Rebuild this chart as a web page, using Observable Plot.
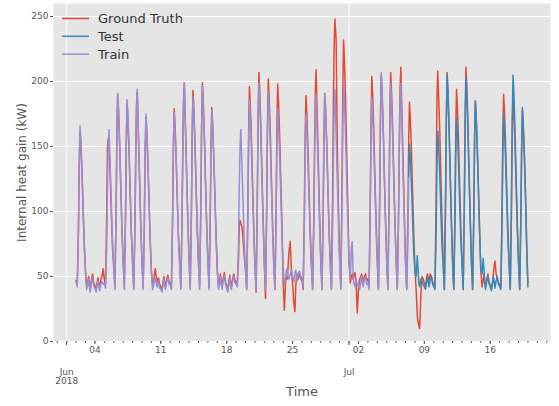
<!DOCTYPE html>
<html><head><meta charset="utf-8">
<script src="https://cdn.jsdelivr.net/npm/d3@7"></script>
<script src="https://cdn.jsdelivr.net/npm/@observablehq/plot@0.6"></script>
<style>
body{margin:0;background:#fff;}
svg{font-family:"DejaVu Sans",sans-serif;}
</style></head><body><div id="chart"></div>
<script>
// hours of day at which each row's values were read
const hours = [0, 3, 6, 8, 10, 12, 15, 18, 21];

const groundTruth = [
  ["06-02", 47, 44, 84, 134, 162, 152, 130, 100, 73],
  ["06-03", 55, 42, 46, 50, 44, 40, 47, 52, 45],
  ["06-04", 43, 40, 46, 49, 44, 41, 47, 50, 56],
  ["06-05", 48, 44, 95, 150, 156, 150, 128, 98, 72],
  ["06-06", 58, 42, 99, 158, 190, 179, 152, 118, 86],
  ["06-07", 62, 42, 95, 152, 183, 172, 146, 113, 82],
  ["06-08", 62, 41, 88, 140, 180, 192, 157, 122, 88],
  ["06-09", 62, 42, 89, 143, 172, 162, 138, 107, 77],
  ["06-10", 55, 43, 47, 52, 56, 50, 45, 49, 44],
  ["06-11", 42, 40, 46, 50, 45, 42, 48, 51, 46],
  ["06-12", 45, 42, 93, 149, 179, 168, 143, 111, 81],
  ["06-13", 62, 42, 90, 145, 185, 199, 163, 127, 92],
  ["06-14", 65, 42, 100, 160, 193, 181, 154, 120, 87],
  ["06-15", 62, 42, 103, 165, 199, 187, 159, 123, 90],
  ["06-16", 64, 42, 94, 149, 180, 169, 144, 112, 81],
  ["06-17", 55, 43, 46, 52, 47, 42, 48, 53, 46],
  ["06-18", 43, 40, 47, 51, 45, 42, 48, 52, 47],
  ["06-19", 46, 44, 62, 88, 93, 91, 88, 78, 65],
  ["06-20", 55, 40, 102, 163, 196, 184, 157, 122, 88],
  ["06-21", 60, 38, 108, 172, 207, 195, 166, 128, 93],
  ["06-22", 58, 33, 105, 168, 202, 190, 162, 125, 91],
  ["06-23", 60, 40, 103, 164, 198, 186, 158, 123, 89],
  ["06-24", 45, 24, 45, 50, 48, 55, 70, 77, 55],
  ["06-25", 45, 30, 23, 42, 50, 52, 48, 52, 50],
  ["06-26", 48, 40, 98, 157, 189, 178, 151, 117, 85],
  ["06-27", 60, 40, 94, 150, 192, 209, 171, 134, 96],
  ["06-28", 62, 40, 99, 159, 191, 180, 153, 118, 86],
  ["06-29", 62, 40, 110, 180, 228, 248, 232, 150, 100],
  ["06-30", 65, 42, 121, 193, 232, 218, 186, 144, 104],
  ["07-01", 62, 45, 50, 52, 48, 50, 53, 45, 22],
  ["07-02", 40, 48, 50, 52, 48, 46, 50, 52, 47],
  ["07-03", 48, 42, 106, 169, 204, 192, 163, 126, 92],
  ["07-04", 62, 40, 107, 170, 205, 193, 164, 127, 92],
  ["07-05", 62, 40, 108, 172, 207, 195, 166, 128, 93],
  ["07-06", 62, 40, 95, 152, 194, 211, 173, 135, 97],
  ["07-07", 62, 40, 96, 153, 184, 173, 147, 114, 83],
  ["07-08", 55, 40, 20, 15, 12, 10, 35, 50, 48],
  ["07-09", 45, 42, 50, 52, 48, 45, 52, 50, 46],
  ["07-10", 44, 42, 110, 185, 208, 192, 165, 128, 93],
  ["07-11", 62, 40, 107, 170, 207, 193, 164, 127, 92],
  ["07-12", 62, 40, 101, 161, 194, 182, 155, 120, 87],
  ["07-13", 62, 40, 110, 175, 211, 198, 169, 131, 95],
  ["07-14", 62, 40, 96, 154, 185, 174, 148, 115, 83],
  ["07-15", 55, 42, 47, 52, 46, 42, 48, 52, 46],
  ["07-16", 43, 41, 46, 52, 58, 62, 52, 48, 45],
  ["07-17", 44, 42, 99, 158, 190, 179, 152, 118, 86],
  ["07-18", 62, 40, 99, 158, 190, 179, 152, 118, 86],
  ["07-19", 62, 40, 93, 148, 178, 167, 142, 110, 72],
  ["07-20", 45]
];

const train = [
  ["06-02", 46, 42, 86, 138, 166, 156, 133, 103, 75],
  ["06-03", 52, 40, 44, 48, 42, 38, 45, 49, 43],
  ["06-04", 41, 38, 44, 47, 42, 39, 44, 46, 44],
  ["06-05", 45, 41, 72, 118, 150, 163, 134, 104, 75],
  ["06-06", 56, 40, 99, 158, 191, 180, 153, 118, 86],
  ["06-07", 60, 40, 97, 154, 186, 175, 149, 115, 84],
  ["06-08", 60, 40, 87, 140, 180, 194, 159, 124, 89],
  ["06-09", 60, 40, 91, 145, 175, 165, 140, 109, 79],
  ["06-10", 52, 40, 44, 49, 48, 45, 42, 47, 41],
  ["06-11", 40, 38, 44, 48, 43, 40, 46, 49, 44],
  ["06-12", 43, 40, 92, 146, 176, 165, 141, 109, 79],
  ["06-13", 60, 40, 90, 145, 185, 199, 163, 127, 92],
  ["06-14", 62, 40, 98, 156, 188, 177, 150, 117, 85],
  ["06-15", 60, 40, 102, 164, 197, 185, 158, 122, 89],
  ["06-16", 62, 40, 93, 148, 178, 167, 142, 110, 80],
  ["06-17", 54, 40, 44, 50, 45, 40, 46, 51, 44],
  ["06-18", 41, 38, 45, 49, 43, 40, 46, 50, 45],
  ["06-19", 44, 42, 73, 117, 150, 163, 134, 104, 75],
  ["06-20", 55, 40, 97, 154, 186, 175, 149, 115, 84],
  ["06-21", 58, 40, 103, 165, 199, 187, 159, 123, 90],
  ["06-22", 60, 40, 100, 160, 193, 181, 154, 120, 87],
  ["06-23", 60, 40, 93, 149, 179, 168, 143, 111, 81],
  ["06-24", 56, 44, 48, 55, 56, 50, 48, 52, 55],
  ["06-25", 50, 46, 52, 55, 50, 47, 53, 54, 48],
  ["06-26", 46, 42, 91, 145, 175, 165, 140, 109, 79],
  ["06-27", 58, 40, 86, 137, 175, 190, 156, 122, 87],
  ["06-28", 60, 40, 99, 158, 190, 179, 152, 118, 86],
  ["06-29", 60, 40, 87, 140, 178, 194, 159, 124, 89],
  ["06-30", 62, 40, 103, 165, 199, 187, 159, 123, 90],
  ["07-01", 60, 48, 72, 77, 55, 45, 42, 48, 44],
  ["07-02", 42, 40, 46, 50, 46, 42, 48, 50, 44],
  ["07-03", 44, 40, 98, 156, 188, 177, 150, 117, 85],
  ["07-04", 60, 40, 108, 172, 207, 195, 166, 128, 93],
  ["07-05", 62, 40, 103, 165, 199, 187, 159, 123, 90],
  ["07-06", 62, 40, 90, 143, 183, 199, 163, 127, 92],
  ["07-07", 60, 40, 79, 126]
];

const test = [
  ["07-07", null, null, null, 126, 152, 143, 122, 94, 68],
  ["07-08", 55, 50, 66, 55, 44, 42, 48, 46, 44],
  ["07-09", 42, 40, 46, 50, 46, 42, 48, 50, 44],
  ["07-10", 42, 40, 84, 134, 162, 152, 130, 100, 73],
  ["07-11", 58, 40, 107, 170, 205, 193, 164, 127, 92],
  ["07-12", 60, 40, 89, 143, 172, 162, 138, 107, 77],
  ["07-13", 60, 40, 106, 168, 203, 191, 162, 126, 91],
  ["07-14", 62, 40, 96, 154, 185, 174, 148, 115, 83],
  ["07-15", 55, 52, 64, 55, 45, 40, 46, 50, 44],
  ["07-16", 42, 39, 45, 50, 46, 41, 47, 50, 44],
  ["07-17", 42, 40, 91, 145, 175, 165, 140, 109, 79],
  ["07-18", 60, 40, 107, 170, 205, 193, 164, 127, 92],
  ["07-19", 62, 40, 94, 149, 180, 169, 144, 112, 72],
  ["07-20", 42]
];

const weekTicks = ["06-04", "06-11", "06-18", "06-25", "07-02", "07-09", "07-16"];
const monthTicks = ["06-01", "07-01"];
const monthLabels = ["Jun\n2018", "Jul"];
const yTicks = [0, 50, 100, 150, 200, 250];
const seriesNames = ["Ground Truth", "Test", "Train"];
const colors = ["#E24A33", "#348ABD", "#988ED5"];

function toDate(md, h = 0) {
  const [m, d] = md.split("-").map(Number);
  return new Date(Date.UTC(2018, m - 1, d, h));
}
function expand(rows) {
  const out = [];
  for (const [md, ...vals] of rows) {
    vals.forEach((v, i) => { if (v != null) out.push({date: toDate(md, hours[i]), value: v}); });
  }
  return out;
}
const gtData = expand(groundTruth);
const trainData = expand(train);
const testData = expand(test);
const weekDates = weekTicks.map(d => toDate(d));
const monthDates = monthTicks.map(d => toDate(d));
const monthData = monthDates.map((d, i) => ({date: d, label: monthLabels[i]}));
const dayTicks = d3.utcDay.range(toDate("05-31"), toDate("07-23"));

const chart = Plot.plot({
  width: 559, height: 406,
  marginLeft: 53, marginRight: 9, marginTop: 3, marginBottom: 65,
  style: {fontFamily: "DejaVu Sans, sans-serif", fontSize: "9px", color: "#555", background: "white"},
  x: {type: "utc", domain: [new Date(Date.UTC(2018, 4, 30, 14, 24)), new Date(Date.UTC(2018, 6, 22, 9, 36))]},
  y: {domain: [0, 260]},
  marks: [
    Plot.frame({fill: "#E5E5E5", stroke: "none"}),
    Plot.gridY(yTicks, {stroke: "white", strokeOpacity: 1, strokeWidth: 1}),
    Plot.gridX(monthDates, {stroke: "white", strokeOpacity: 1, strokeWidth: 1}),
    Plot.axisY(yTicks, {tickSize: 3, tickPadding: 2, fontSize: 9, color: "#555", label: null}),
    Plot.axisX(dayTicks, {tickSize: 2, tickFormat: () => "", label: null, color: "#666"}),
    Plot.axisX(weekDates, {tickSize: 3, tickPadding: 2, tickFormat: d3.utcFormat("%d"), label: null, color: "#555", fontSize: 9}),
    Plot.axisX(monthDates, {tickSize: 4, tickFormat: () => "", label: null, color: "#555"}),
    Plot.text(monthData, {x: "date", text: "label", frameAnchor: "bottom", dy: 27, lineAnchor: "top", fontSize: 9, fill: "#555", lineHeight: 1}),
    Plot.lineY(gtData, {x: "date", y: "value", stroke: colors[0], strokeWidth: 1.5}),
    Plot.lineY(testData, {x: "date", y: "value", stroke: colors[1], strokeWidth: 1.5}),
    Plot.lineY(trainData, {x: "date", y: "value", stroke: colors[2], strokeWidth: 1.5}),
    Plot.text(["Internal heat gain (kW)"], {frameAnchor: "left", textAnchor: "middle", dx: -31, rotate: -90, fontSize: 12, fill: "#555"}),
    Plot.text(["Time"], {frameAnchor: "bottom", dy: 54, fontSize: 13, fill: "#555"})
  ]
});

const svg = d3.select(chart);
const lg = svg.append("g").attr("text-anchor", "start");
seriesNames.forEach((n, i) => {
  const y = 18.5 + i * 17.8;
  lg.append("line").attr("x1", 62).attr("x2", 89).attr("y1", y).attr("y2", y)
    .attr("stroke", colors[i]).attr("stroke-width", 1.5);
  lg.append("text").attr("x", 98).attr("y", y).attr("dy", "0.35em")
    .attr("text-anchor", "start").attr("font-size", 13).attr("fill", "#333").text(n);
});
document.getElementById("chart").appendChild(chart);
</script>
</body></html>
